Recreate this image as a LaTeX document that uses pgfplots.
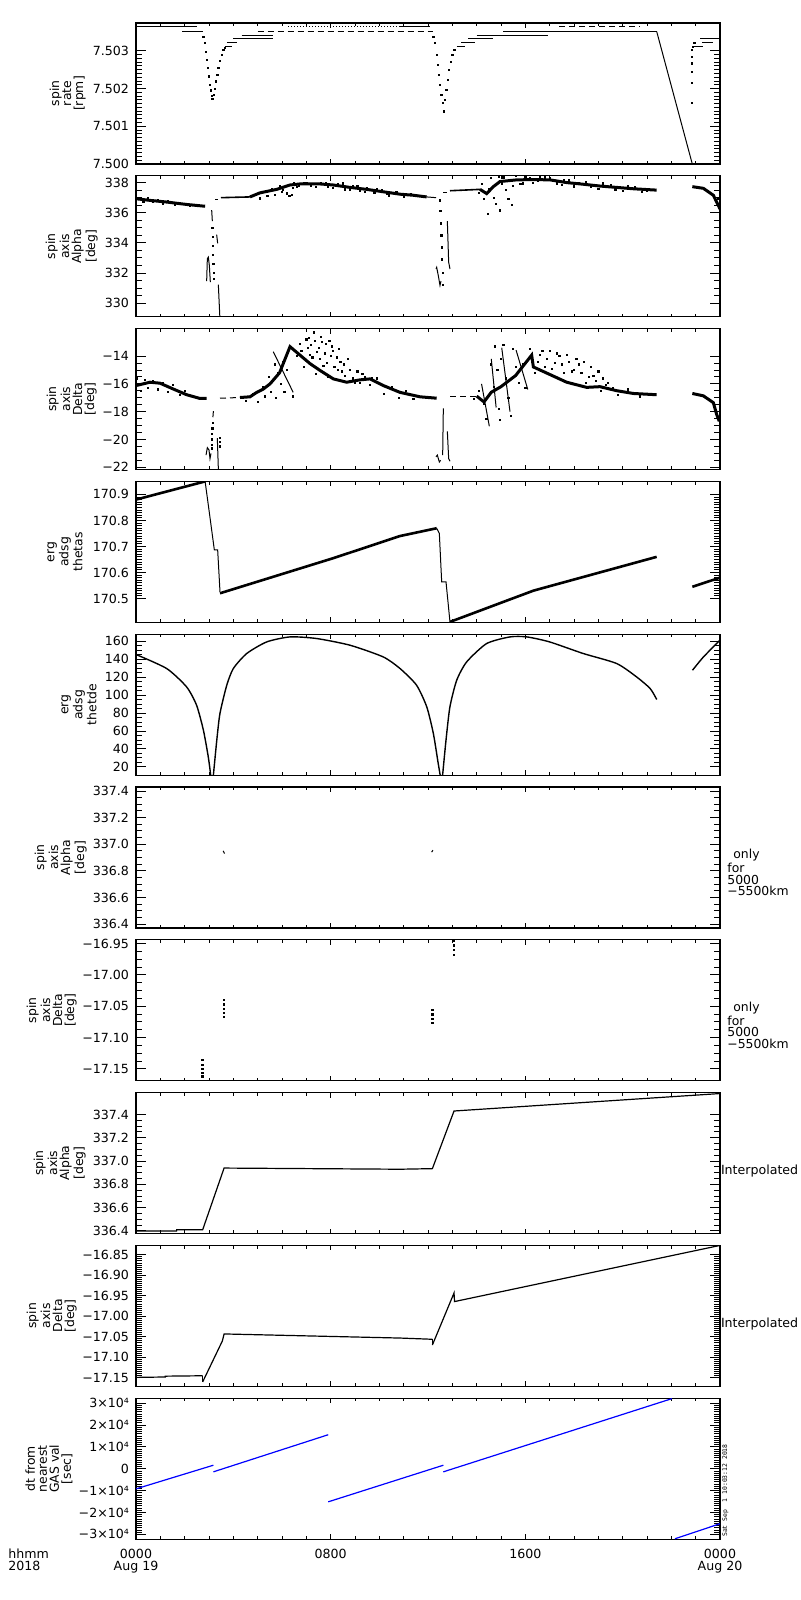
\documentclass[border=0pt]{standalone}
\usepackage{fontspec}
\setmainfont{DejaVu Sans}
\setmonofont{DejaVu Sans Mono}
\usepackage{pgfplots}
\pgfplotsset{compat=1.18}

\newcommand\labfont{\fontsize{6.2}{6}\selectfont}
\newcommand\tickfont{\fontsize{6.3}{6}\selectfont}

\pgfplotsset{
  panel/.style={
    scale only axis, width=292pt, height=70.5pt, anchor=north west,
    xmin=0, xmax=24, xtick={0,8,16,24}, minor x tick num=7, xticklabels={},
    xtick pos=both, ytick pos=both, tick align=inside,
    major tick length=5pt, minor tick length=2.8pt,
    xtick style={/pgfplots/major tick length=2.5pt, /pgfplots/minor tick length=1.6pt},
    axis line style={line width=0.6pt},
    every tick/.style={black, line width=0.5pt},
    yticklabel style={font=\tickfont},
    xticklabel style={font=\tickfont},
    scaled y ticks=false,
    every axis y label/.style={rotate=90, anchor=south, align=center, inner sep=0pt, font=\labfont},
  },
  lbl/.style={ylabel style={at={(axis description cs:-#1,0.5)}}},
  dat/.style={black, line width=0.5pt},
  band/.style={black, line width=1.5pt},
  dots/.style={black, only marks, mark=square*, mark size=0.3pt},
}

\begin{document}
\begin{tikzpicture}
\useasboundingbox (0,0) rectangle (400pt,-800pt);

% ---- 1: spin rate
\begin{axis}[panel, at={(68pt,-11.5pt)}, lbl=0.0856,
  ymin=7.5, ymax=7.50374, ytick={7.500,7.501,7.502,7.503},
  yticklabels={7.500,7.501,7.502,7.503}, minor y tick num=9,
  ylabel={spin\\rate\\{[rpm]}}]
\addplot[dat] coordinates {(0,7.50364)(2.5,7.50364)};
\addplot[dat] coordinates {(1.9,7.50351)(2.75,7.50351)};
\addplot[dat, densely dotted] coordinates {(6.25,7.50364)(10.8,7.50364)};
\addplot[dat] coordinates {(10.8,7.50364)(12.1,7.50364)};
\addplot[dat, densely dashed] coordinates {(17.4,7.50364)(20.7,7.50364)};
\addplot[dat, densely dashed] coordinates {(5.0,7.50351)(12.2,7.50351)};
\addplot[dat] coordinates {(15.1,7.50351)(21.4,7.50351)};
\addplot[dat] coordinates {(4.34,7.50342)(5.64,7.50342)};
\addplot[dat] coordinates {(14.0,7.50342)(16.95,7.50342)};
\addplot[dat] coordinates {(4.0,7.50334)(5.64,7.50334)};
\addplot[dat] coordinates {(13.66,7.50334)(14.69,7.50334)};
\addplot[dat] coordinates {(23.18,7.50334)(24,7.50334)};
\addplot[dat] coordinates {(3.73,7.50322)(4.14,7.50322)};
\addplot[dat] coordinates {(13.36,7.50322)(13.93,7.50322)};
\addplot[dat] coordinates {(23.25,7.50322)(23.73,7.50322)};
\addplot[dat] coordinates {(3.64,7.50311)(3.94,7.50311)};
\addplot[dat] coordinates {(13.18,7.50311)(13.52,7.50311)};
\addplot[dat] coordinates {(22.9,7.50311)(23.3,7.50311)};
\addplot[dots] coordinates {
 (2.767,7.503379)(2.836,7.503203)(2.877,7.502982)(2.904,7.502762)(2.945,7.502541)
 (2.986,7.502321)(3.027,7.502101)(3.068,7.501951)(3.110,7.501810)(3.137,7.501721)
 (3.205,7.501836)(3.247,7.501986)(3.288,7.502189)(3.342,7.502365)(3.384,7.502541)
 (3.452,7.502735)(3.521,7.502894)(3.589,7.503026)(3.658,7.503071)};
\addplot[dots] coordinates {
 (12.219,7.503379)(12.288,7.503203)(12.356,7.502894)(12.397,7.502630)(12.438,7.502365)
 (12.493,7.502101)(12.548,7.501836)(12.603,7.501616)(12.644,7.501396)(12.699,7.501704)
 (12.753,7.501969)(12.808,7.502233)(12.863,7.502497)(12.932,7.502718)(13.000,7.502894)
 (13.082,7.503026)};
\addplot[dat] coordinates {(21.4,7.50351)(22.87,7.49998)};
\addplot[dots] coordinates {(22.86,7.50303)(22.86,7.50285)(22.86,7.50267)(22.86,7.50245)
 (22.86,7.50215)(22.86,7.50162)(22.9,7.50311)(22.95,7.50322)};
\end{axis}

% ---- 2: spin axis alpha
\begin{axis}[panel, at={(68pt,-87.9pt)}, lbl=0.065,
  ymin=329.1, ymax=338.45, ytick={330,332,334,336,338},
  yticklabels={330,332,334,336,338}, minor y tick num=3,
  ylabel={spin\\axis\\Alpha\\{[deg]}}]
\addplot[band] coordinates {(0,336.93)(0.575,336.82)(1.26,336.71)(2.08,336.55)(2.84,336.43)};
\addplot[dat] coordinates {(3.11,336.18)(3.137,335.45)};
\addplot[dots] coordinates {(3.14,335.0)(3.15,334.4)(3.16,333.8)(3.17,333.2)(3.18,332.6)(3.19,332.0)(3.20,331.6)};
\addplot[dat] coordinates {(2.904,331.47)(2.932,332.95)(2.973,333.06)(3.014,332.5)(3.055,331.4)};
\addplot[dat] coordinates {(3.315,334.55)(3.356,333.97)};
\addplot[dat] coordinates {(3.384,331.24)(3.452,328.85)};
\addplot[dat] coordinates {(3.25,336.87)(3.38,336.87)};
\addplot[dat, line width=0.8pt] coordinates {(3.493,337.0)(4.685,337.05)};
\addplot[band] coordinates {(4.685,337.05)(5.096,337.32)(5.781,337.55)(6.329,337.84)
 (6.74,337.91)(7.562,337.91)(8.11,337.84)(8.795,337.68)(9.479,337.55)(10.164,337.39)
 (10.849,337.23)(11.397,337.16)(11.945,337.05)};
\addplot[dat] coordinates {(11.945,337.05)(12.329,337.0)};
\addplot[dots] coordinates {(12.493,336.82)(12.51,336.1)(12.53,335.3)(12.55,334.5)(12.57,333.7)(12.585,332.9)(12.6,332.0)(12.603,331.24)};
\addplot[dat] coordinates {(12.329,332.27)(12.356,332.38)(12.425,331.82)(12.493,331.18)(12.534,331.47)};
\addplot[dat] coordinates {(12.795,335.45)(12.849,332.72)(12.904,332.27)};
\addplot[dat] coordinates {(12.63,337.32)(12.77,337.32)};
\addplot[dat, line width=0.8pt] coordinates {(12.904,337.46)(14.137,337.55)};
\addplot[band] coordinates {(14.137,337.55)(14.411,337.27)(14.685,337.73)(14.959,338.07)
 (15.644,338.18)(16.329,338.2)(17.014,338.18)(17.699,338.0)(18.384,337.89)(19.068,337.77)
 (19.753,337.68)(20.438,337.59)(21.397,337.5)};
\addplot[band] coordinates {(22.863,337.73)(23.315,337.62)(23.726,337.16)(23.863,336.71)(24.0,336.25)};
\addplot[dots] coordinates {
 (0.1,337.0)(0.3,336.75)(0.5,336.95)(0.7,336.7)(0.9,336.85)(1.1,336.6)(1.3,336.75)(1.6,336.5)(1.9,336.6)(2.2,336.45)
 (4.9,337.2)(5.1,336.95)(5.3,337.4)(5.4,337.1)(5.6,337.55)(5.7,337.2)(5.9,337.75)(6.0,337.4)(6.05,337.52)
 (6.19,337.23)(6.2,337.3)(6.3,337.1)(6.4,337.16)(6.45,337.65)(6.5,337.95)(6.6,337.7)(6.9,337.95)(7.2,337.8)
 (7.6,337.98)(7.9,337.75)(8.3,337.9)(8.6,337.55)(8.9,337.75)(9.2,337.45)(9.5,337.65)(9.8,337.35)(10.1,337.5)
 (10.4,337.15)(10.7,337.35)(11.0,337.05)(11.3,337.25)
 (6.7,337.8)(7.0,338.0)(7.4,337.7)(7.8,338.0)(8.1,337.65)(8.5,337.95)(8.8,337.5)(9.1,337.8)(9.4,337.4)(9.9,337.6)(10.3,337.25)
 (14.1,337.3)(14.2,337.9)(14.3,336.9)(14.45,335.9)(14.5,337.6)(14.6,338.3)(14.7,337.0)(14.8,336.6)
 (14.9,338.4)(14.96,336.15)(15.05,337.9)(15.1,338.35)(15.2,337.5)(15.3,336.9)(15.35,338.2)(15.44,336.5)
 (15.5,337.8)(15.6,338.45)(15.8,337.9)(16.0,338.35)(16.3,338.0)(16.6,338.4)(17.0,338.3)(17.3,337.95)
 (17.6,338.2)(18.0,337.75)(18.5,338.05)(19.0,337.6)(19.5,337.85)(20.0,337.45)(20.5,337.7)(21.0,337.45)
 (15.9,337.95)(16.2,338.3)(16.5,338.1)(16.8,338.35)(17.2,338.1)(17.5,337.85)(17.8,338.15)(18.2,337.95)
 (18.7,337.7)(19.2,337.95)(19.7,337.55)(20.2,337.75)(20.8,337.4)
 (23.9,336.9)(23.95,336.4)(24.0,336.7)};
\end{axis}

% ---- 3: spin axis delta
\begin{axis}[panel, at={(68pt,-164.3pt)}, lbl=0.0668,
  ymin=-22.17, ymax=-12.02, ytick={-22,-20,-18,-16,-14},
  yticklabels={−22,−20,−18,−16,−14}, minor y tick num=3,
  ylabel={spin\\axis\\Delta\\{[deg]}}]
\addplot[band] coordinates {(0,-16.12)(0.575,-15.88)(0.986,-15.95)(1.534,-16.37)(2.082,-16.78)(2.63,-17.05)(2.904,-17.05)};
\addplot[dat] coordinates {(3.18,-17.96)(3.16,-18.4)};
\addplot[dots] coordinates {(3.15,-18.8)(3.14,-19.2)(3.13,-19.6)(3.12,-20.0)(3.11,-20.4)(3.11,-20.64)};
\addplot[dat] coordinates {(2.877,-21.13)(2.932,-20.59)(3.0,-20.76)(3.041,-21.38)(3.082,-21.0)};
\addplot[dat] coordinates {(3.342,-19.91)(3.384,-22.11)};
\addplot[dots] coordinates {(3.45,-19.9)(3.45,-20.2)(3.45,-20.5)};
\addplot[dat, densely dashed] coordinates {(3.452,-17.03)(4.274,-16.98)};
\addplot[band] coordinates {(4.274,-16.98)(4.685,-16.93)(4.959,-16.61)(5.233,-16.37)(5.507,-16.0)(5.9,-15.2)(6.329,-13.32)
 (6.74,-13.93)(7.151,-14.54)(7.562,-15.03)(8.11,-15.64)(8.658,-15.88)(9.205,-15.71)(9.616,-15.64)
 (10.164,-16.12)(10.849,-16.61)(11.671,-16.93)(12.356,-17.03)};
\addplot[dat] coordinates {(5.64,-13.68)(6.46,-16.61)};
\addplot[dat] coordinates {(12.63,-17.76)(12.603,-21.13)};
\addplot[dat] coordinates {(12.329,-21.25)(12.384,-21.13)(12.466,-21.62)(12.52,-21.5)};
\addplot[dat] coordinates {(12.795,-19.42)(12.849,-21.38)(12.904,-21.57)};
\addplot[dat, densely dashed] coordinates {(12.904,-16.88)(14.0,-16.88)};
\addplot[dat] coordinates {(14.2,-16.0)(14.52,-19.05)};
\addplot[dat] coordinates {(14.6,-14.2)(14.8,-17.7)};
\addplot[dat] coordinates {(15.03,-13.4)(15.37,-18.0)};
\addplot[dat] coordinates {(15.62,-13.57)(16.1,-16.4)};
\addplot[band] coordinates {(14.0,-16.88)(14.3,-17.3)(14.6,-16.6)(15.0,-16.2)(15.6,-15.4)(16.26,-13.93)(16.33,-14.78)
 (17.699,-15.88)(18.521,-16.25)(19.068,-16.2)(19.753,-16.49)(20.438,-16.69)(21.397,-16.78)};
\addplot[band] coordinates {(22.863,-16.69)(23.315,-16.86)(23.726,-17.35)(23.863,-18.2)(23.97,-18.69)};
\addplot[dots] coordinates {
 (0.05,-15.6)(0.2,-16.5)(0.35,-15.7)(0.5,-16.3)(0.7,-15.8)(0.9,-16.4)(1.1,-15.9)(1.3,-16.6)(1.5,-16.1)(1.8,-16.8)(2.0,-16.5)
 (4.5,-17.2)(4.8,-16.7)(5.0,-17.3)(5.2,-16.2)(5.3,-16.9)(5.45,-15.5)(5.55,-16.6)(5.7,-14.6)(5.75,-17.0)(5.85,-15.2)
 (5.95,-16.0)(6.05,-14.4)(6.1,-16.6)(6.2,-15.0)(6.45,-16.9)(6.6,-14.0)(6.75,-13.1)(6.9,-14.8)(7.0,-12.8)(7.15,-13.9)
 (7.3,-12.3)(7.4,-15.3)(7.5,-13.4)(7.6,-12.6)(7.7,-14.7)(7.8,-13.1)(7.9,-15.5)(8.0,-14.0)(8.1,-13.6)(8.3,-15.0)
 (8.4,-14.4)(8.6,-15.4)(8.8,-15.0)(9.0,-15.9)(9.3,-15.3)(9.6,-16.1)(9.9,-15.6)(10.2,-16.7)(10.5,-16.2)(10.8,-17.0)
 (11.1,-16.5)(11.4,-17.1)
 (6.8,-13.6)(6.95,-14.2)(7.05,-13.4)(7.1,-12.7)(7.2,-13.2)(7.25,-14.1)(7.35,-12.9)(7.45,-13.7)(7.55,-14.2)
 (7.65,-13.0)(7.75,-13.8)(7.85,-14.5)(7.95,-12.9)(8.05,-13.3)(8.15,-14.8)(8.25,-14.1)(8.35,-13.5)(8.45,-15.1)
 (8.55,-14.6)(8.7,-14.2)(8.9,-15.6)(9.1,-15.1)(9.2,-15.9)(9.4,-15.5)(9.7,-15.6)
 (13.9,-17.1)(14.1,-16.5)(14.3,-17.4)(14.4,-18.5)(14.6,-14.6)(14.7,-16.2)(14.75,-13.3)(14.85,-15.0)(14.9,-17.8)
 (14.95,-18.6)(15.0,-14.2)(15.1,-13.2)(15.2,-15.6)(15.3,-17.0)(15.4,-18.3)(15.5,-13.5)(15.6,-14.8)(15.75,-15.9)
 (15.9,-14.6)(16.0,-16.3)(16.2,-13.5)(16.4,-15.2)(16.6,-13.9)(16.8,-14.8)(17.0,-13.6)(17.2,-14.5)(17.4,-14.0)
 (17.6,-15.2)(17.8,-14.4)(18.0,-15.0)(18.2,-14.6)(18.5,-15.9)(18.8,-15.4)(19.1,-16.5)(19.4,-15.9)(19.8,-16.8)
 (20.2,-16.4)(20.7,-16.9)
 (16.5,-14.4)(16.7,-13.6)(16.9,-14.2)(17.1,-14.9)(17.3,-13.8)(17.5,-14.6)(17.7,-13.9)(17.9,-15.1)(18.1,-14.2)
 (18.3,-15.2)(18.4,-14.4)(18.6,-15.5)(18.7,-14.8)(18.9,-15.8)(19.0,-15.1)(19.2,-15.6)(19.3,-16.1)(19.6,-16.3)};
\end{axis}

% ---- 4: erg adsg thetas
\begin{axis}[panel, at={(68pt,-240.7pt)}, lbl=0.0908,
  ymin=170.408, ymax=170.95, ytick={170.5,170.6,170.7,170.8,170.9},
  yticklabels={170.5,170.6,170.7,170.8,170.9}, minor y tick num=9,
  ylabel={erg\\adsg\\thetas}]
\addplot[band, line width=1.3pt] coordinates {(0,170.88)(2.84,170.95)};
\addplot[dat] coordinates {(2.84,170.95)(3.014,170.83)(3.219,170.687)(3.356,170.687)(3.452,170.525)};
\addplot[band, line width=1.3pt] coordinates {(3.452,170.52)(8.11,170.655)(10.849,170.74)(12.356,170.77)};
\addplot[dat] coordinates {(12.356,170.77)(12.466,170.75)(12.562,170.564)(12.74,170.564)(12.904,170.409)};
\addplot[band, line width=1.3pt] coordinates {(12.904,170.41)(16.33,170.53)(21.397,170.66)};
\addplot[band, line width=1.3pt] coordinates {(22.863,170.545)(24,170.58)};
\end{axis}

% ---- 5: erg adsg thetde
\begin{axis}[panel, at={(68pt,-317.1pt)}, lbl=0.0668,
  ymin=10.8, ymax=167.8, ytick={20,40,60,80,100,120,140,160},
  yticklabels={20,40,60,80,100,120,140,160}, minor y tick num=3,
  ylabel={erg\\adsg\\thetde}]
\addplot[dat, line width=0.7pt, smooth, tension=0.4] coordinates {(0,145.2)(1.26,129.6)(2.08,109.1)(2.49,88.7)(2.77,60.9)(2.97,31.2)(3.07,10.8)};
\addplot[dat, line width=0.7pt, smooth, tension=0.4] coordinates {(3.18,10.8)(3.32,49.8)(3.45,79.5)(3.73,111)(4.0,129.6)(4.55,146.3)(5.37,159.2)
 (6.33,164.8)(7.42,163)(8.8,155.5)(10.16,142.5)(10.85,129.6)(11.53,111)(11.95,86.8)(12.22,57.2)(12.42,23.8)(12.5,10.8)};
\addplot[dat, line width=0.7pt, smooth, tension=0.4] coordinates {(12.6,10.8)(12.74,49.8)(12.9,86.8)(13.18,116.6)(13.59,137)(14.41,157.4)
 (15.37,164.8)(16.06,164.8)(17.0,159.2)(18.38,146.3)(19.75,135.2)(20.57,120.3)(21.13,107.3)(21.4,95.1)};
\addplot[dat, line width=0.7pt, smooth, tension=0.4] coordinates {(22.87,127.7)(23.32,142.5)(24,161.1)};
\end{axis}

% ---- 6: spin axis alpha (5000-5500 km)
\begin{axis}[panel, at={(68pt,-393.5pt)}, lbl=0.0839, name=p6,
  ymin=336.37, ymax=337.43, ytick={336.4,336.6,336.8,337.0,337.2,337.4},
  yticklabels={336.4,336.6,336.8,337.0,337.2,337.4}, minor y tick num=3,
  ylabel={spin\\axis\\Alpha\\{[deg]}}]
\addplot[dat] coordinates {(3.58,336.95)(3.64,336.93)};
\addplot[dat] coordinates {(12.15,336.94)(12.2,336.955)};
\end{axis}

% ---- 7: spin axis delta (5000-5500 km)
\begin{axis}[panel, at={(68pt,-469.9pt)}, lbl=0.101, name=p7,
  ymin=-17.169, ymax=-16.944, ytick={-17.15,-17.10,-17.05,-17.00,-16.95},
  yticklabels={−17.15,−17.10,−17.05,−17.00,−16.95}, minor y tick num=3,
  ylabel={spin\\axis\\Delta\\{[deg]}}]
\addplot[dots] coordinates {(3.62,-17.04)(3.62,-17.047)(3.62,-17.054)(3.62,-17.061)(3.62,-17.067)
 (2.73,-17.136)(2.73,-17.143)(2.73,-17.15)(2.73,-17.156)(2.73,-17.162)
 (12.18,-17.056)(12.18,-17.063)(12.18,-17.07)(12.18,-17.077)
 (13.08,-16.946)(13.08,-16.953)(13.08,-16.96)(13.08,-16.968)};
\end{axis}

% ---- 8: spin axis alpha interpolated
\begin{axis}[panel, at={(68pt,-546.3pt)}, lbl=0.0856, name=p8,
  ymin=336.377, ymax=337.588, ytick={336.4,336.6,336.8,337.0,337.2,337.4},
  yticklabels={336.4,336.6,336.8,337.0,337.2,337.4}, minor y tick num=3,
  ylabel={spin\\axis\\Alpha\\{[deg]}}]
\addplot[dat, line width=0.6pt] coordinates {(0,336.40)(1.67,336.40)(1.67,336.41)(2.74,336.41)(3.62,336.94)
 (10.85,336.93)(12.18,336.935)(13.07,337.43)(24,337.58)};
\end{axis}

% ---- 9: spin axis delta interpolated
\begin{axis}[panel, at={(68pt,-622.7pt)}, lbl=0.101, name=p9,
  ymin=-17.171, ymax=-16.827, ytick={-17.15,-17.10,-17.05,-17.00,-16.95,-16.90,-16.85},
  yticklabels={−17.15,−17.10,−17.05,−17.00,−16.95,−16.90,−16.85}, minor y tick num=9,
  ylabel={spin\\axis\\Delta\\{[deg]}}]
\addplot[dat, line width=0.6pt] coordinates {(0,-17.149)(1.2,-17.148)(1.2,-17.146)(2.74,-17.145)};
\addplot[dat, line width=0.6pt] coordinates {(2.74,-17.16)(3.55,-17.06)(3.62,-17.043)(10.85,-17.053)(12.18,-17.056)};
\addplot[dat, densely dashed] coordinates {(2.74,-17.145)(2.74,-17.165)};
\addplot[dat, densely dashed] coordinates {(12.18,-17.056)(12.18,-17.078)};
\addplot[dat, line width=0.6pt] coordinates {(12.18,-17.07)(13.07,-16.943)(13.09,-16.964)(24,-16.827)};
\end{axis}

% ---- 10: dt from nearest GAS value
\begin{axis}[panel, at={(68pt,-699.1pt)}, lbl=0.108, name=p10,
  ymin=-32200, ymax=32300, ytick={-30000,-20000,-10000,0,10000,20000,30000},
  yticklabels={−3×10⁴,−2×10⁴,−1×10⁴,0,1×10⁴,2×10⁴,3×10⁴}, minor y tick num=9,
  xticklabels={{0000\\Aug 19},{0800},{1600},{0000\\Aug 20}},
  xticklabel style={align=center, inner sep=0pt, yshift=-4.7pt},
  ylabel={dt from\\nearest\\GAS val\\{[sec]}}]
\addplot[blue, line width=0.6pt] coordinates {(0,-9170)(3.18,1650)};
\addplot[blue, line width=0.6pt] coordinates {(3.18,-1380)(7.9,15600)};
\addplot[blue, line width=0.6pt] coordinates {(7.9,-15100)(12.63,1650)};
\addplot[blue, line width=0.6pt] coordinates {(12.63,-1380)(22.02,32100)};
\addplot[blue, line width=0.6pt] coordinates {(22.15,-32000)(24,-25100)};
\end{axis}

\node[anchor=north west, align=left, inner sep=0pt, font={\fontsize{6.2}{5.85}\selectfont}, xshift=3.5pt, yshift=4.5pt]
  at (p6.east) {\hspace{3pt}only\\for\\5000\\−5500km};
\node[anchor=north west, align=left, inner sep=0pt, font={\fontsize{6.2}{5.85}\selectfont}, xshift=3.5pt, yshift=4.5pt]
  at (p7.east) {\hspace{3pt}only\\for\\5000\\−5500km};
\node[anchor=west, inner sep=0pt, font=\tickfont, xshift=0.3pt, yshift=-4pt] at (p8.east) {Interpolated};
\node[anchor=west, inner sep=0pt, font=\tickfont, xshift=0.3pt, yshift=-4pt] at (p9.east) {Interpolated};
\node[anchor=north west, align=left, inner sep=0pt, font=\tickfont] at (4pt,-774.3pt) {hhmm\\2018};
\node[xshift=1pt, yshift=1pt, rotate=90, anchor=north west, inner sep=0pt, font={\fontsize{3.2}{3.2}\selectfont\ttfamily}]
  at (p10.south east) {Sat Sep\ \ 1 10:03:12 2018};
\end{tikzpicture}
\end{document}
